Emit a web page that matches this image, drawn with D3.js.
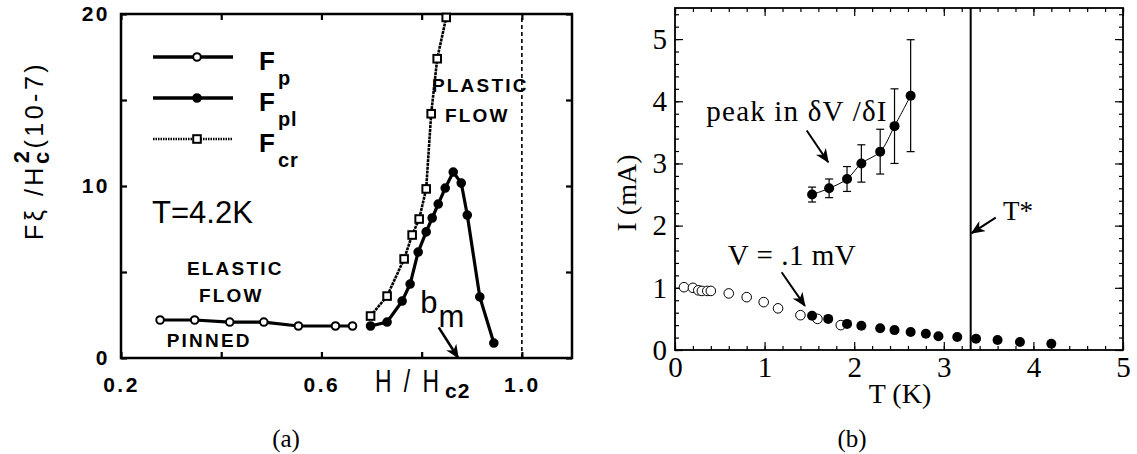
<!DOCTYPE html>
<html>
<head>
<meta charset="utf-8">
<script src="https://cdn.jsdelivr.net/npm/d3@7"></script>
<style>
  body { margin: 0; background: #fff; }
  svg { display: block; }
  .sans { font-family: "Liberation Sans", Arial, sans-serif; }
  .serif { font-family: "Liberation Serif", "Times New Roman", serif; }
</style>
</head>
<body>
<div id="display"></div>
<script>
// ---- panel (a) data : pinning force vs reduced field, T=4.2K ----
var fpH  = [0.278, 0.347, 0.417, 0.485, 0.554, 0.628, 0.662];
var fpF  = [2.21, 2.21, 2.09, 2.09, 1.86, 1.86, 1.86];
var fplH = [0.698, 0.731, 0.761, 0.777, 0.793, 0.809, 0.821, 0.833, 0.847, 0.863, 0.879, 0.891, 0.916, 0.944];
var fplF = [1.86, 2.09, 3.31, 4.30, 6.16, 7.33, 8.14, 8.95, 9.88, 10.81, 10.17, 8.31, 3.55, 0.87];
var fcrH = [0.698, 0.731, 0.765, 0.781, 0.795, 0.809, 0.819, 0.831, 0.849];
var fcrF = [2.44, 3.60, 5.76, 7.15, 8.08, 9.83, 14.2, 17.4, 19.8];
var hTicks = [0.2, 0.4, 0.6, 0.8, 1.0];
var hLabels = ["0.2", "", "0.6", "", "1.0"];
var fTicks = [0, 5, 10, 15, 20];
var fLabels = ["0", "", "10", "", "20"];
var hc2 = 1.0;

// ---- panel (b) data : current vs temperature ----
var openT   = [0.10, 0.20, 0.26, 0.30, 0.36, 0.40, 0.60, 0.80, 0.99, 1.15, 1.40, 1.59, 1.85];
var openI   = [1.01, 1.00, 0.96, 0.95, 0.95, 0.95, 0.91, 0.85, 0.77, 0.67, 0.56, 0.50, 0.40];
var filledT = [1.53, 1.71, 1.92, 2.08, 2.29, 2.45, 2.63, 2.80, 2.94, 3.15, 3.36, 3.60, 3.85, 4.20];
var filledI = [0.55, 0.50, 0.42, 0.39, 0.35, 0.32, 0.29, 0.26, 0.22, 0.21, 0.18, 0.16, 0.13, 0.10];
var peakT   = [1.53, 1.72, 1.92, 2.08, 2.29, 2.45, 2.63];
var peakI   = [2.50, 2.60, 2.75, 3.00, 3.19, 3.60, 4.09];
var peakErr = [0.12, 0.15, 0.20, 0.30, 0.36, 0.60, 0.90];
var tStar = 3.30;
var tTicks = [0, 1, 2, 3, 4, 5];
var iTicks = [0, 1, 2, 3, 4, 5];

var W = 1137, H = 454;

var svg = d3.select("#display").append("svg")
  .attr("width", W).attr("height", H);
svg.append("rect").attr("width", W).attr("height", H).attr("fill", "#fff");

var defs = svg.append("defs");
defs.append("marker").attr("id", "arr")
  .attr("viewBox", "0 0 14 12").attr("refX", 13).attr("refY", 6)
  .attr("markerWidth", 14).attr("markerHeight", 12)
  .attr("markerUnits", "userSpaceOnUse").attr("orient", "auto")
  .append("path").attr("d", "M0,0 L14,6 L0,12 L4,6 Z").attr("fill", "#000");

function zip(a, b) { return a.map(function(v, i) { return [v, b[i]]; }); }

// ================= panel (a) =================
var xA = d3.scaleLinear().domain([0.2, 1.1]).range([121, 572]);
var yA = d3.scaleLinear().domain([0, 20]).range([358, 14]);
var gA = svg.append("g").attr("class", "sans");

function strip(g) { g.select(".domain").remove(); }

gA.append("g").attr("transform", "translate(0," + yA(0) + ")")
  .call(d3.axisBottom(xA).tickValues(hTicks).tickSizeInner(-6).tickSizeOuter(0).tickPadding(19)
    .tickFormat(function(d, i) { return hLabels[i]; }))
  .call(strip);
gA.append("g").attr("transform", "translate(0," + yA(20) + ")")
  .call(d3.axisTop(xA).tickValues(hTicks).tickSizeInner(-6).tickSizeOuter(0).tickFormat(""))
  .call(strip);
gA.append("g").attr("transform", "translate(" + xA(0.2) + ",0)")
  .call(d3.axisLeft(yA).tickValues(fTicks).tickSizeInner(-6).tickSizeOuter(0).tickPadding(11)
    .tickFormat(function(d, i) { return fLabels[i]; }))
  .call(strip);
gA.append("g").attr("transform", "translate(" + xA(1.1) + ",0)")
  .call(d3.axisRight(yA).tickValues(fTicks).tickSizeInner(-6).tickSizeOuter(0).tickFormat(""))
  .call(strip);
gA.selectAll(".tick line").attr("stroke-width", 2.2);
gA.selectAll(".tick text")
  .style("font-size", "21px").style("font-weight", "bold")
  .style("font-family", "'Liberation Sans', Arial, sans-serif").style("letter-spacing", "2.5px");

gA.append("rect")
  .attr("x", xA(0.2)).attr("y", yA(20))
  .attr("width", xA(1.1) - xA(0.2)).attr("height", yA(0) - yA(20))
  .attr("fill", "none").attr("stroke", "#000").attr("stroke-width", 2.5);

// Hc2 dashed line
gA.append("line")
  .attr("x1", xA(hc2)).attr("x2", xA(hc2)).attr("y1", yA(0)).attr("y2", yA(20))
  .attr("stroke", "#000").attr("stroke-width", 1.6).attr("stroke-dasharray", "4,3");

var lineA = d3.line().x(function(d) { return xA(d[0]); }).y(function(d) { return yA(d[1]); });

var seriesA = [
  {name: "p",  h: fpH,  f: fpF,  dash: null,    width: 3.2, mark: "circle", fill: "#fff"},
  {name: "pl", h: fplH, f: fplF, dash: null,    width: 3.2, mark: "circle", fill: "#000"},
  {name: "cr", h: fcrH, f: fcrF, dash: "3,0.8", width: 2.6, mark: "square", fill: "#fff"}
];

function drawMark(g, s, x, y) {
  if (s.mark === "circle") {
    g.append("circle").attr("cx", x).attr("cy", y).attr("r", 3.8)
      .attr("fill", s.fill).attr("stroke", "#000").attr("stroke-width", 2);
  } else {
    g.append("rect").attr("x", x - 3.8).attr("y", y - 3.8).attr("width", 7.6).attr("height", 7.6)
      .attr("fill", s.fill).attr("stroke", "#000").attr("stroke-width", 2);
  }
}

seriesA.forEach(function(s) {
  var pts = zip(s.h, s.f);
  gA.append("path").attr("d", lineA(pts)).attr("fill", "none")
    .attr("stroke", "#000").attr("stroke-width", s.width)
    .attr("stroke-dasharray", s.dash);
  pts.forEach(function(p) { drawMark(gA, s, xA(p[0]), yA(p[1])); });
});

// legend
seriesA.forEach(function(s, i) {
  var ly = 57 + i * 41;
  var lg = gA.append("g");
  lg.append("line").attr("x1", 153).attr("x2", 233).attr("y1", ly).attr("y2", ly)
    .attr("stroke", "#000").attr("stroke-width", s.dash ? 2.6 : 3.6)
    .attr("stroke-dasharray", s.dash ? "1.5,1" : null);
  drawMark(lg, s, 197, ly);
  var t = lg.append("text").attr("x", 259).attr("y", ly + 13)
    .attr("font-size", 26).attr("font-weight", "bold");
  t.append("tspan").text("F");
  t.append("tspan").attr("dx", 3).attr("dy", 15).attr("font-size", 20).attr("letter-spacing", 1).text(s.name);
});

// region labels
function boldLabel(txt, h, f) {
  gA.append("text").attr("x", xA(h)).attr("y", yA(f))
    .attr("text-anchor", "middle").attr("font-size", 19).attr("font-weight", "bold")
    .attr("letter-spacing", 2.2).text(txt);
}
boldLabel("PLASTIC", 0.917, 15.47);
boldLabel("FLOW", 0.911, 13.7);
boldLabel("ELASTIC", 0.428, 4.83);
boldLabel("FLOW", 0.420, 3.26);
boldLabel("PINNED", 0.376, 0.64);

gA.append("text").attr("x", xA(0.262)).attr("y", yA(7.85))
  .attr("font-size", 31).text("T=4.2K");

// b_m label and arrow
var bm = gA.append("text").attr("x", xA(0.797)).attr("y", yA(2.6)).attr("font-size", 31);
bm.append("tspan").text("b");
bm.append("tspan").attr("dx", 1).attr("dy", 14).text("m");
gA.append("line")
  .attr("x1", xA(0.834)).attr("y1", yA(1.78)).attr("x2", xA(0.873)).attr("y2", yA(0))
  .attr("stroke", "#000").attr("stroke-width", 2.6).attr("marker-end", "url(#arr)");

// axis labels
gA.append("text").attr("transform", "translate(375,392) scale(0.74,1)")
  .attr("font-size", 31).attr("letter-spacing", 4).text("H / H");
gA.append("text").attr("x", 445).attr("y", 398)
  .attr("font-size", 21).attr("font-weight", "bold").attr("letter-spacing", 1).text("c2");

var yl = gA.append("text").attr("transform", "translate(43,240) rotate(-90)")
  .attr("font-size", 25).attr("letter-spacing", 3.5);
yl.append("tspan").text("F\u03BE /H");
yl.append("tspan").attr("dy", 6).attr("font-size", 22).attr("font-weight", "bold").text("c");
yl.append("tspan").attr("dx", -15).attr("dy", -20).attr("font-size", 22).attr("font-weight", "bold").text("2");
yl.append("tspan").attr("dx", -1).attr("dy", 14).text("(10-7)");

svg.append("text").attr("class", "serif").attr("x", 286).attr("y", 447)
  .attr("text-anchor", "middle").attr("font-size", 25).text("(a)");

// ================= panel (b) =================
var xB = d3.scaleLinear().domain([0, 5]).range([675, 1123]);
var yB = d3.scaleLinear().domain([0, 5.5]).range([350, 8]);
var gB = svg.append("g").attr("class", "serif");

var tMinor = d3.range(0, 5.01, 0.2);
var iMinor = d3.range(0, 5.41, 0.2);

function axesB(g) {
  g.append("g").attr("transform", "translate(0," + yB(0) + ")")
    .call(d3.axisBottom(xB).tickValues(tMinor).tickSizeInner(-4).tickSizeOuter(0).tickFormat("")).call(strip);
  g.append("g").attr("transform", "translate(0," + yB(0) + ")")
    .call(d3.axisBottom(xB).tickValues(tTicks).tickSizeInner(-8).tickSizeOuter(0).tickPadding(6)
      .tickFormat(d3.format("d"))).call(strip);
  g.append("g").attr("transform", "translate(0," + yB(5.5) + ")")
    .call(d3.axisTop(xB).tickValues(tMinor).tickSizeInner(-4).tickSizeOuter(0).tickFormat("")).call(strip);
  g.append("g").attr("transform", "translate(0," + yB(5.5) + ")")
    .call(d3.axisTop(xB).tickValues(tTicks).tickSizeInner(-8).tickSizeOuter(0).tickFormat("")).call(strip);
  g.append("g").attr("transform", "translate(" + xB(0) + ",0)")
    .call(d3.axisLeft(yB).tickValues(iMinor).tickSizeInner(-4).tickSizeOuter(0).tickFormat("")).call(strip);
  g.append("g").attr("transform", "translate(" + xB(0) + ",0)")
    .call(d3.axisLeft(yB).tickValues(iTicks).tickSizeInner(-8).tickSizeOuter(0).tickPadding(8)
      .tickFormat(d3.format("d"))).call(strip);
  g.append("g").attr("transform", "translate(" + xB(5) + ",0)")
    .call(d3.axisRight(yB).tickValues(iMinor).tickSizeInner(-4).tickSizeOuter(0).tickFormat("")).call(strip);
  g.append("g").attr("transform", "translate(" + xB(5) + ",0)")
    .call(d3.axisRight(yB).tickValues(iTicks).tickSizeInner(-8).tickSizeOuter(0).tickFormat("")).call(strip);
}
axesB(gB);
gB.selectAll(".tick line").attr("stroke-width", 1.2);
gB.selectAll(".tick text").style("font-size", "29px")
  .style("font-family", "'Liberation Serif', 'Times New Roman', serif");

gB.append("rect")
  .attr("x", xB(0)).attr("y", yB(5.5))
  .attr("width", xB(5) - xB(0)).attr("height", yB(0) - yB(5.5))
  .attr("fill", "none").attr("stroke", "#000").attr("stroke-width", 1.8);

// T* line
gB.append("line").attr("x1", xB(tStar)).attr("x2", xB(tStar)).attr("y1", yB(0)).attr("y2", yB(5.5))
  .attr("stroke", "#000").attr("stroke-width", 2);

// peak in dV/dI : curve, error bars, points
var peakPts = zip(peakT, peakI);
var lineB = d3.line().x(function(d) { return xB(d[0]); }).y(function(d) { return yB(d[1]); })
  .curve(d3.curveCatmullRom);
gB.append("path").attr("d", lineB(peakPts)).attr("fill", "none")
  .attr("stroke", "#000").attr("stroke-width", 1);

peakPts.forEach(function(p, i) {
  var x = xB(p[0]), lo = yB(p[1] - peakErr[i]), hi = yB(p[1] + peakErr[i]);
  gB.append("line").attr("x1", x).attr("x2", x).attr("y1", lo).attr("y2", hi)
    .attr("stroke", "#000").attr("stroke-width", 1.2);
  [lo, hi].forEach(function(yy) {
    gB.append("line").attr("x1", x - 4).attr("x2", x + 4).attr("y1", yy).attr("y2", yy)
      .attr("stroke", "#000").attr("stroke-width", 1.2);
  });
  gB.append("circle").attr("cx", x).attr("cy", yB(p[1])).attr("r", 5).attr("fill", "#000");
});

// V = .1 mV points
zip(openT, openI).forEach(function(p) {
  gB.append("circle").attr("cx", xB(p[0])).attr("cy", yB(p[1])).attr("r", 4.8)
    .attr("fill", "#fff").attr("stroke", "#000").attr("stroke-width", 1);
});
zip(filledT, filledI).forEach(function(p) {
  gB.append("circle").attr("cx", xB(p[0])).attr("cy", yB(p[1])).attr("r", 5).attr("fill", "#000");
});

// annotations
function note(txt, t, i, size, ls) {
  gB.append("text").attr("x", xB(t)).attr("y", yB(i)).attr("font-size", size)
    .attr("letter-spacing", ls).text(txt);
}
function arrowB(t1, i1, t2, i2) {
  gB.append("line").attr("x1", xB(t1)).attr("y1", yB(i1)).attr("x2", xB(t2)).attr("y2", yB(i2))
    .attr("stroke", "#000").attr("stroke-width", 2).attr("marker-end", "url(#arr)");
}
note("peak in \u03B4V /\u03B4I", 0.35, 3.69, 29, 1.2);
arrowB(1.47, 3.53, 1.71, 3.02);
note("V = .1 mV", 0.59, 1.36, 29, 0.5);
arrowB(1.19, 1.25, 1.45, 0.71);
note("T*", 3.66, 2.09, 27, 0);
arrowB(3.58, 2.13, 3.31, 1.88);

// axis labels
gB.append("text").attr("transform", "translate(636,193) rotate(-90)")
  .attr("text-anchor", "middle").attr("font-size", 28).text("I (mA)");
gB.append("text").attr("x", 900).attr("y", 403)
  .attr("text-anchor", "middle").attr("font-size", 28).text("T (K)");

svg.append("text").attr("class", "serif").attr("x", 852).attr("y", 447)
  .attr("text-anchor", "middle").attr("font-size", 25).text("(b)");
</script>
</body>
</html>
